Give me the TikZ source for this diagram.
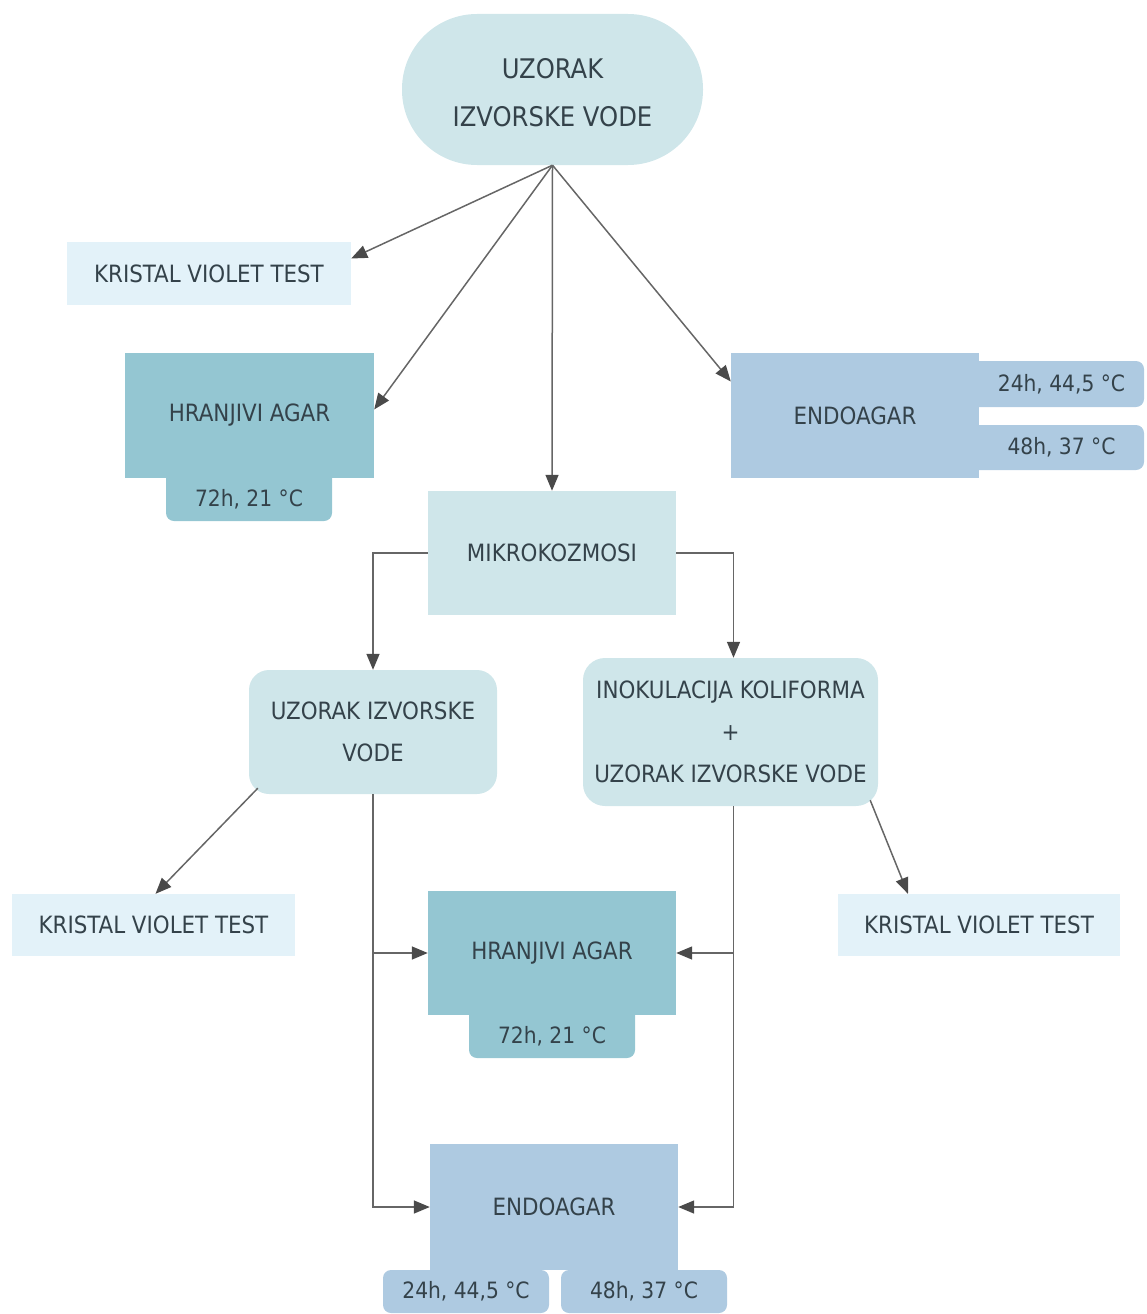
\documentclass[tikz,border=0pt]{standalone}
\usepackage{fontspec}
\setmainfont{DejaVu Sans Condensed}
\usetikzlibrary{arrows.meta,calc}
\definecolor{pale}{HTML}{CFE6EA}
\definecolor{kvc}{HTML}{E3F2F9}
\definecolor{hagar}{HTML}{94C6D2}
\definecolor{endo}{HTML}{AECAE1}
\definecolor{txt}{HTML}{34424A}
\definecolor{ln}{HTML}{666666}
\definecolor{tipc}{HTML}{4A4A4A}
\begin{document}
\begin{tikzpicture}[x=1pt,y=-1pt,
  every node/.style={font=\fontsize{23.8}{42}\selectfont, text=txt, inner sep=0pt, align=center},
  box/.style={fill=#1, draw=none},
  tabbox/.style={fill=#1, draw=none, rounded corners=8pt, font=\fontsize{22.5}{42}\selectfont},
  tabtext/.style={label={[yshift=-6pt, font=\fontsize{22.5}{42}\selectfont, text=txt]center:#1}},
  conn/.style={draw=ln, line width=1.5pt, -{Triangle[length=16pt,width=13pt,color=tipc]}},
  plain/.style={draw=ln, line width=1.5pt}]
\useasboundingbox (0,0) rectangle (1146,1314);

% top terminal
\node[box=pale, minimum width=301pt, minimum height=151pt, rounded corners=75pt,
  font=\fontsize{27}{48}\selectfont] (top) at (552.5,89.5) {\rule{0pt}{26pt}UZORAK\\IZVORSKE VODE};

\node[box=kvc, minimum width=284pt, minimum height=63pt] (kv1) at (209,273.5) {KRISTAL VIOLET TEST};

% hranjivi agar 1 with tab
\node[tabbox=hagar, minimum width=166pt, minimum height=55pt, tabtext={72h, 21 °C}] (ha1t) at (249,493.5) {};
\node[box=hagar, minimum width=249pt, minimum height=125pt] (ha1) at (249.5,415.5) {HRANJIVI AGAR};

% endoagar 1 with tabs
\node[tabbox=endo, minimum width=184pt, minimum height=46pt] (ea1a) at (1052,384) {\hspace*{19pt}24h, 44,5 °C};
\node[tabbox=endo, minimum width=184pt, minimum height=45pt] (ea1b) at (1052,447.5) {\hspace*{19pt}48h, 37 °C};
\node[box=endo, minimum width=248pt, minimum height=125pt] (ea1) at (855,415.5) {ENDOAGAR};

\node[box=pale, minimum width=248pt, minimum height=124pt] (mk) at (552,553) {MIKROKOZMOSI};

\node[box=pale, minimum width=248pt, minimum height=124pt, rounded corners=20pt] (uz) at (373,732) {UZORAK IZVORSKE\\VODE};
\node[box=pale, minimum width=295pt, minimum height=148pt, rounded corners=22pt] (ino) at (730.5,732) {INOKULACIJA KOLIFORMA\\+\\UZORAK IZVORSKE VODE};

\node[box=kvc, minimum width=283pt, minimum height=62pt] (kv2) at (153.5,925) {KRISTAL VIOLET TEST};
\node[box=kvc, minimum width=282pt, minimum height=62pt] (kv3) at (979,925) {KRISTAL VIOLET TEST};

% hranjivi agar 2 with tab
\node[tabbox=hagar, minimum width=166pt, minimum height=55pt, tabtext={72h, 21 °C}] (ha2t) at (552,1030.5) {};
\node[box=hagar, minimum width=248pt, minimum height=124pt] (ha2) at (552,953) {HRANJIVI AGAR};

% endoagar 2 with tabs
\node[box=endo, minimum width=248pt, minimum height=126pt] (ea2) at (554,1207) {ENDOAGAR};
\node[tabbox=endo, minimum width=166pt, minimum height=43pt] (ea2a) at (466,1291.5) {24h, 44,5 °C};
\node[tabbox=endo, minimum width=166pt, minimum height=43pt] (ea2b) at (644,1291.5) {48h, 37 °C};

% connectors from top
\draw[conn] (top.south) -- ($(kv1.east)+(0,-15)$);
\draw[conn] (top.south) -- ($(ha1.east)+(0,-6)$);
\draw[conn] (top.south) -- (mk.north);
\draw[conn] (top.south) -- ($(ea1.west)+(0,-34)$);

% mikrokozmosi branches
\draw[conn] (mk.west) -| (uz.north);
\draw[conn] (mk.east) -| ([xshift=3pt]ino.north);

% to side tests
\draw[conn] ($(uz.south west)+(9,-6)$) -- ($(kv2.north)+(2,0)$);
\draw[conn] ($(ino.south east)+(-8,-6)$) -- ($(kv3.north)+(-71,0)$);

% to bottom media
\draw[conn] (uz.south) |- (ha2.west);
\draw[conn] (uz.south) |- (ea2.west);
\draw[conn] ([xshift=3pt]ino.south) |- (ha2.east);
\draw[conn] ([xshift=3pt]ino.south) |- (ea2.east);
\end{tikzpicture}
\end{document}
